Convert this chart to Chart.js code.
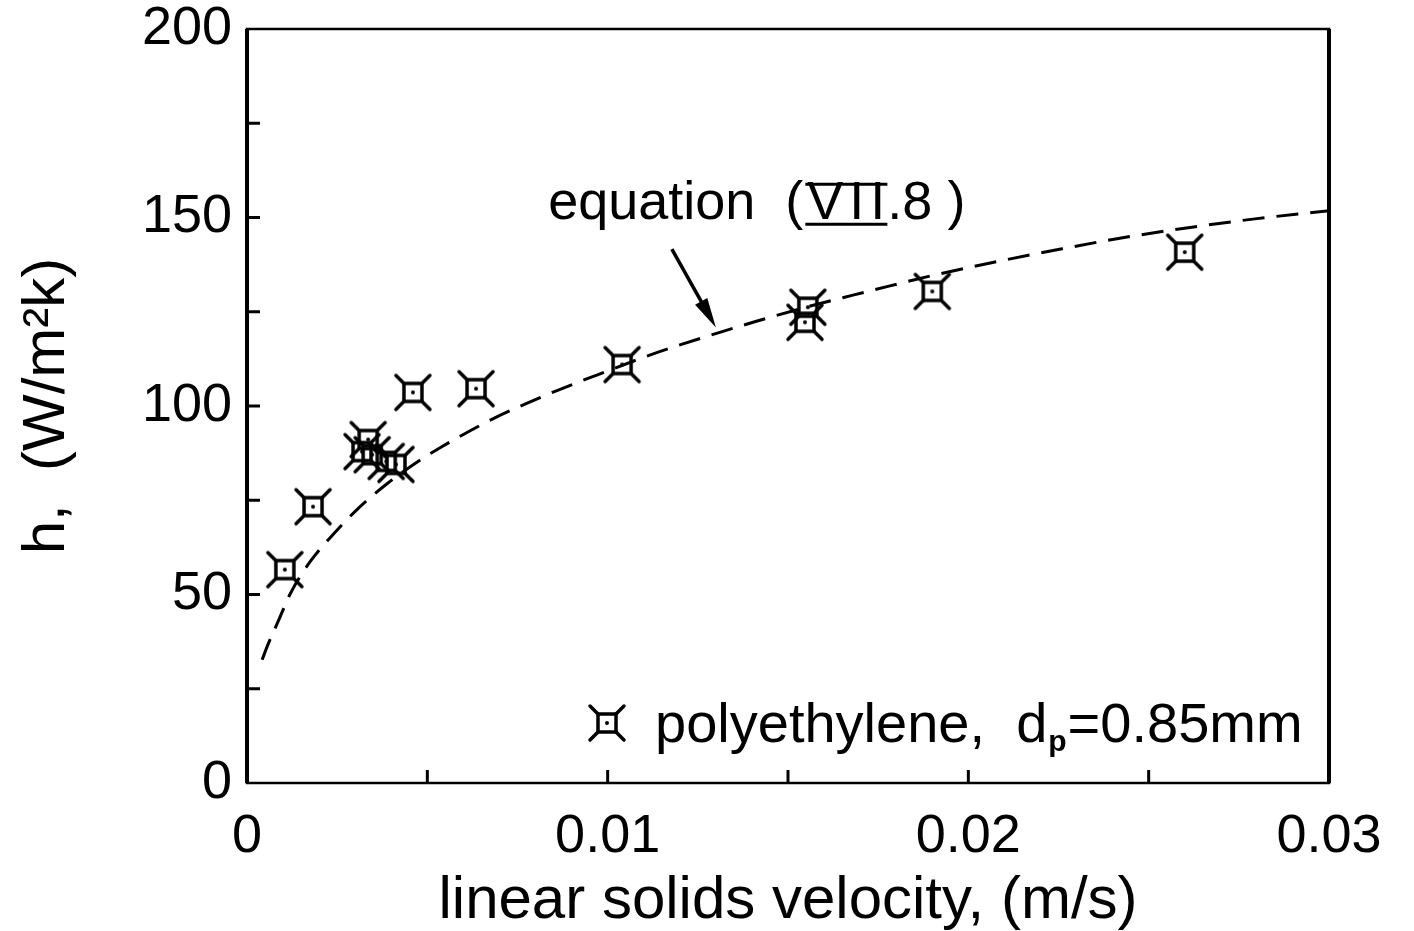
<!DOCTYPE html>
<html>
<head>
<meta charset="utf-8">
<script src="https://cdn.jsdelivr.net/npm/chart.js@4.4.1/dist/chart.umd.min.js"></script>
<style>
  body { margin: 0; background: #fff; }
  #wrap { width: 1414px; height: 931px; }
</style>
</head>
<body>
<div id="wrap"><canvas id="chart" width="1414" height="931"></canvas></div>
<script>
// measured points (polyethylene, dp = 0.85 mm)
const velocity = [0.00105, 0.00183, 0.00319, 0.00336, 0.00347, 0.00386, 0.00413, 0.0046, 0.00635, 0.0104, 0.01547, 0.01555, 0.019, 0.026];
const hValues  = [56.6, 73.3, 87.9, 91.1, 87.1, 85.3, 84.5, 103.6, 104.6, 111, 122.2, 126.2, 130.4, 140.8];

// equation (VII.8) curve
const curveVelocity = [0.00042, 0.00058, 0.00086, 0.0012, 0.00175, 0.0023, 0.0031, 0.0039, 0.0047, 0.0054, 0.0062, 0.0069, 0.0079, 0.0087, 0.0097, 0.0114, 0.0132, 0.0141, 0.0155, 0.0168, 0.0178, 0.019, 0.0209, 0.0226, 0.0242, 0.0261, 0.028, 0.03];
const curveH        = [32.7, 36.7, 42.8, 50.2, 58.7, 65.0, 73.0, 79.5, 85.0, 89.2, 93.5, 97.0, 101.3, 104.5, 108.2, 114.3, 119.8, 122.4, 126.2, 129.4, 131.8, 134.6, 138.5, 141.7, 144.5, 147.3, 149.7, 151.8];

const xTicks = [0, 0.01, 0.02, 0.03];
const yTicks = [0, 50, 100, 150, 200];

const FONT = '"Liberation Sans", Arial, sans-serif';

// square with corner whiskers and a centre dot
function makeMarker() {
    const c = document.createElement('canvas');
    c.width = 40; c.height = 40;
    const g = c.getContext('2d');
    g.strokeStyle = '#000';
    g.lineWidth = 3.5;
    g.lineCap = 'round';
    g.strokeRect(11, 11, 18, 18);
    g.beginPath();
    g.moveTo(11, 11); g.lineTo(3, 3);
    g.moveTo(29, 11); g.lineTo(37, 3);
    g.moveTo(11, 29); g.lineTo(3, 37);
    g.moveTo(29, 29); g.lineTo(37, 37);
    g.stroke();
    g.fillStyle = '#000';
    g.beginPath();
    g.arc(20, 20, 2, 0, Math.PI * 2);
    g.fill();
    return c;
}
const marker = makeMarker();

const isMultiple = (v, step) => Math.abs(v / step - Math.round(v / step)) < 1e-6;

const extras = {
    id: 'extras',
    afterDatasetsDraw(chart) {
        const { ctx, chartArea: a, scales: { x, y } } = chart;
        ctx.save();
        ctx.strokeStyle = '#000';
        ctx.fillStyle = '#000';

        // frame
        ctx.lineWidth = 2.5;
        ctx.strokeRect(a.left, a.top, a.right - a.left, a.bottom - a.top);
        ctx.lineWidth = 4;
        ctx.beginPath();
        ctx.moveTo(a.left, a.top); ctx.lineTo(a.left, a.bottom);
        ctx.moveTo(a.right, a.top); ctx.lineTo(a.right, a.bottom);
        ctx.stroke();

        // inside ticks
        ctx.lineWidth = 3;
        ctx.beginPath();
        for (let v = 0.005; v < 0.03; v += 0.005) {
            const px = x.getPixelForValue(v);
            ctx.moveTo(px, a.bottom); ctx.lineTo(px, a.bottom - 13);
        }
        for (let v = 25; v < 200; v += 25) {
            const py = y.getPixelForValue(v);
            ctx.moveTo(a.left, py); ctx.lineTo(a.left + 13, py);
        }
        ctx.stroke();

        // arrow to the curve
        const x0 = x.getPixelForValue(0.01178), y0 = y.getPixelForValue(141.6);
        const x1 = x.getPixelForValue(0.0130), y1 = y.getPixelForValue(120.8);
        const ang = Math.atan2(y1 - y0, x1 - x0);
        ctx.lineWidth = 3.5;
        ctx.beginPath();
        ctx.moveTo(x0, y0);
        ctx.lineTo(x1 - 20 * Math.cos(ang), y1 - 20 * Math.sin(ang));
        ctx.stroke();
        ctx.beginPath();
        ctx.moveTo(x1, y1);
        ctx.lineTo(x1 - 30 * Math.cos(ang) + 7 * Math.sin(ang), y1 - 30 * Math.sin(ang) - 7 * Math.cos(ang));
        ctx.lineTo(x1 - 30 * Math.cos(ang) - 7 * Math.sin(ang), y1 - 30 * Math.sin(ang) + 7 * Math.cos(ang));
        ctx.closePath();
        ctx.fill();

        // "equation (VII.8 )"
        ctx.font = '54px ' + FONT;
        ctx.textBaseline = 'middle';
        ctx.textAlign = 'left';
        let tx = x.getPixelForValue(0.00835);
        const ty = y.getPixelForValue(153.5);
        const part1 = 'equation  (';
        ctx.fillText(part1, tx, ty);
        tx += ctx.measureText(part1).width + 4;
        const rx = tx;
        for (const ch of ['V', 'I', 'I']) {
            ctx.fillText(ch, tx, ty);
            tx += ctx.measureText(ch).width + 6;
        }
        tx -= 4;
        ctx.lineWidth = 3;
        ctx.beginPath();
        ctx.moveTo(rx - 2, ty - 20); ctx.lineTo(tx, ty - 20);
        ctx.moveTo(rx - 2, ty + 20); ctx.lineTo(tx, ty + 20);
        ctx.stroke();
        ctx.fillText('.8 )', tx, ty);

        // legend
        const lx = a.right - 722, ly = a.bottom - 60;
        ctx.drawImage(marker, lx - 20, ly - 20);
        ctx.font = '56px ' + FONT;
        let gx = lx + 48;
        const t1 = 'polyethylene,  d';
        ctx.fillText(t1, gx, ly + 4);
        gx += ctx.measureText(t1).width;
        ctx.font = 'bold 30px ' + FONT;
        ctx.fillText('p', gx + 1, ly + 20);
        gx += ctx.measureText('p').width + 2;
        ctx.font = '56px ' + FONT;
        ctx.fillText('=0.85mm', gx, ly + 4);

        ctx.restore();
    }
};

new Chart(document.getElementById('chart'), {
    type: 'scatter',
    data: {
        datasets: [{
            label: 'equation (VII.8)',
            data: curveVelocity.map((v, i) => ({ x: v, y: curveH[i] })),
            showLine: true,
            borderColor: '#000',
            borderWidth: 3,
            borderDash: [22, 12],
            pointRadius: 0,
            cubicInterpolationMode: 'monotone',
            fill: false
        }, {
            label: 'polyethylene, dp=0.85mm',
            data: velocity.map((v, i) => ({ x: v, y: hValues[i] })),
            pointStyle: marker,
            pointRadius: 20,
            showLine: false
        }]
    },
    options: {
        responsive: false,
        animation: false,
        layout: { padding: { top: 29, right: 85, left: 0, bottom: 0 } },
        plugins: { legend: { display: false }, tooltip: { enabled: false } },
        scales: {
            x: {
                type: 'linear',
                min: 0, max: 0.03,
                grid: { display: false, drawTicks: false },
                border: { display: false },
                afterBuildTicks: s => { s.ticks = xTicks.map(v => ({ value: v })); },
                afterFit: s => { s.height = 148; s.paddingLeft = 0; s.paddingRight = 0; },
                ticks: {
                    color: '#000',
                    padding: 22,
                    maxRotation: 0,
                    font: { family: FONT, size: 54 },
                    callback: v => isMultiple(v, 0.01) ? String(+v.toFixed(2)) : ''
                },
                title: {
                    display: true,
                    text: 'linear solids velocity, (m/s)',
                    color: '#000',
                    font: { family: FONT, size: 60, lineHeight: 1.0 },
                    padding: { top: 22, bottom: 0 }
                }
            },
            y: {
                type: 'linear',
                min: 0, max: 200,
                grid: { display: false, drawTicks: false },
                border: { display: false },
                afterBuildTicks: s => { s.ticks = yTicks.map(v => ({ value: v })); },
                afterFit: s => { s.width = 247; s.paddingTop = 0; s.paddingBottom = 0; },
                ticks: {
                    color: '#000',
                    padding: 15,
                    font: { family: FONT, size: 54 }
                },
                title: {
                    display: true,
                    text: 'h,  (W/m²k)',
                    color: '#000',
                    font: { family: FONT, size: 60, lineHeight: 1.1 },
                    padding: { top: 14, bottom: 0 }
                }
            }
        }
    },
    plugins: [extras]
});
</script>
</body>
</html>
